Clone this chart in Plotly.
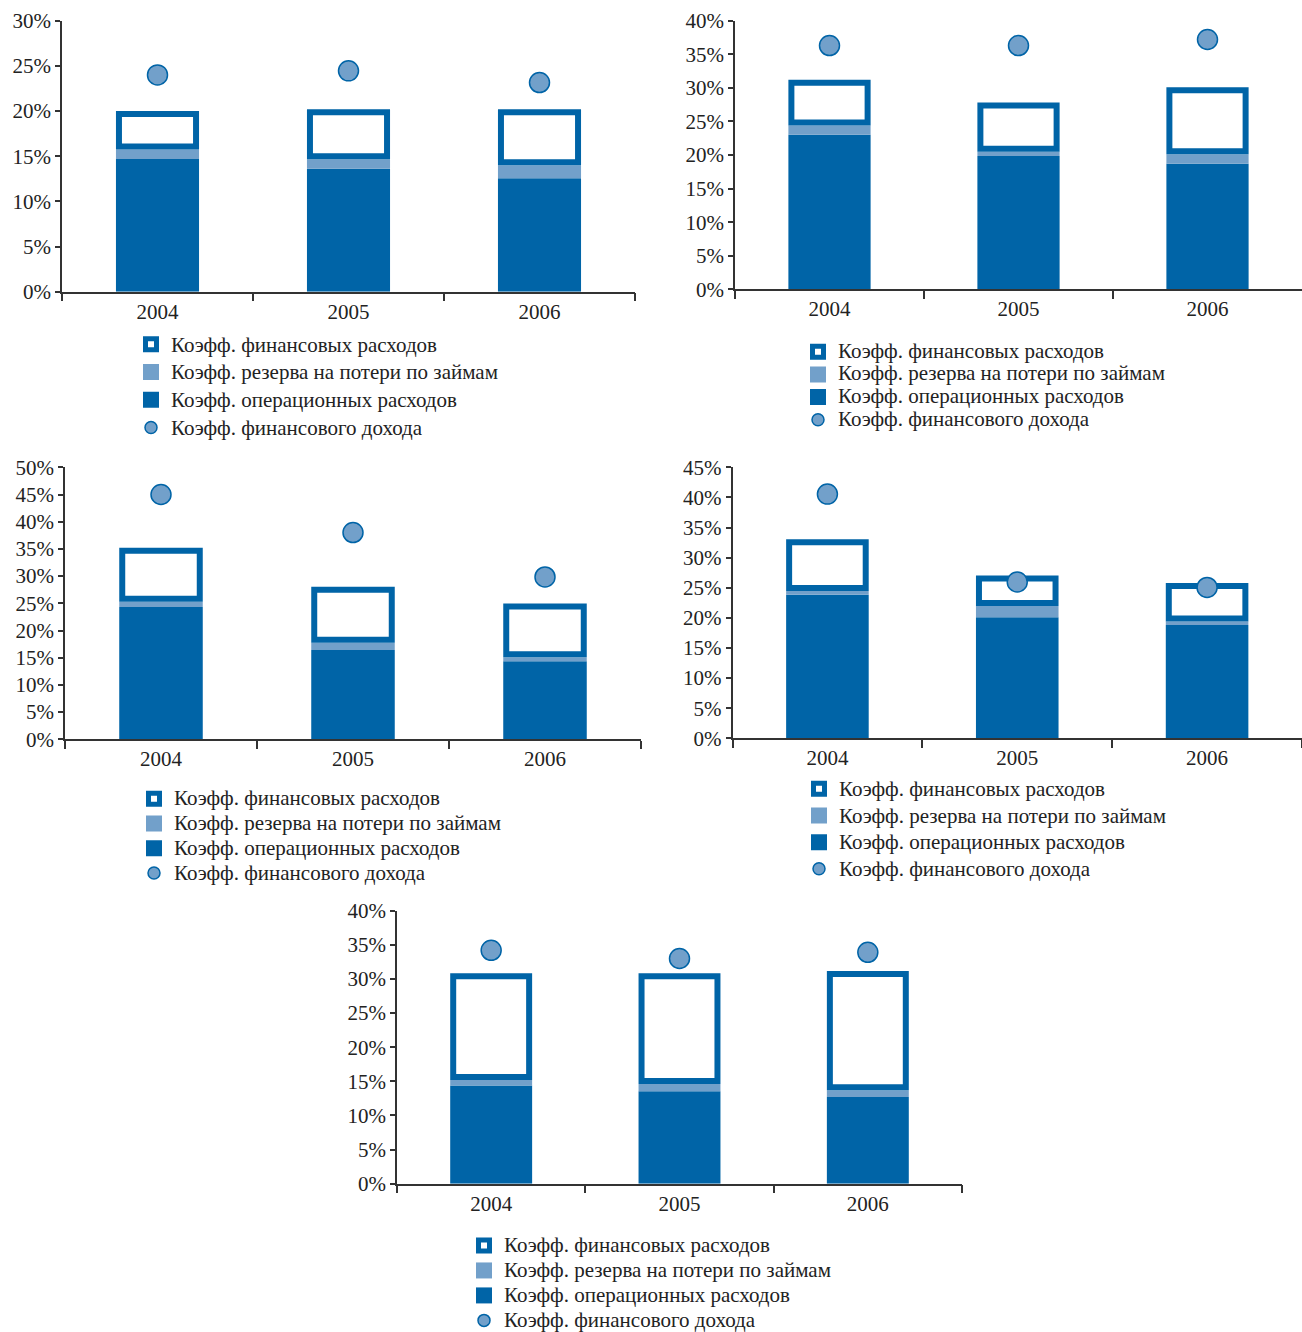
import plotly.graph_objects as go

# Categories
years = ["2004", "2005", "2006"]

# Panel 1
opex_1 = [14.7, 13.6, 12.55]
reserve_1 = [1.05, 1.05, 1.45]
finexp_1 = [4.25, 5.55, 6.2]
income_1 = [24.0, 24.45, 23.15]

# Panel 2
opex_2 = [23.0, 19.85, 18.7]
reserve_2 = [1.4, 0.65, 1.4]
finexp_2 = [6.8, 7.3, 10.0]
income_2 = [36.3, 36.3, 37.2]

# Panel 3
opex_3 = [24.3, 16.4, 14.35]
reserve_3 = [1.0, 1.35, 0.75]
finexp_3 = [9.9, 10.3, 9.85]
income_3 = [45.0, 38.0, 29.85]

# Panel 4
opex_4 = [23.85, 20.1, 18.8]
reserve_4 = [0.6, 1.85, 0.6]
finexp_4 = [8.6, 5.1, 6.4]
income_4 = [40.55, 25.95, 25.05]

# Panel 5
opex_5 = [14.4, 13.55, 12.7]
reserve_5 = [0.8, 1.05, 1.0]
finexp_5 = [15.65, 16.25, 17.45]
income_5 = [34.2, 33.0, 33.9]

y_max = [30, 40, 50, 45, 40]

series_names = [
    "Коэфф. финансовых расходов",
    "Коэфф. резерва на потери по займам",
    "Коэфф. операционных расходов",
    "Коэфф. финансового дохода",
]

panels = [
    (opex_1, reserve_1, finexp_1, income_1),
    (opex_2, reserve_2, finexp_2, income_2),
    (opex_3, reserve_3, finexp_3, income_3),
    (opex_4, reserve_4, finexp_4, income_4),
    (opex_5, reserve_5, finexp_5, income_5),
]

W, H = 1302, 1332
DARK = "#0064a7"
LIGHT = "#72a0ca"
AXIS = "#333333"
TEXT = "#222222"
FONT = "Liberation Serif, Times New Roman, serif"

# Plot areas in pixels: left, right, top, bottom
frames = [
    (62, 635, 20.7, 291.7),
    (735, 1302, 20.7, 289.3),
    (65, 641, 467.3, 739.3),
    (732.5, 1302, 467.3, 738.3),
    (397, 962, 910.7, 1183.7),
]
# Legend boxes: left px, top px, row-spacing font size
legend_pos = [
    (131, 325.5, 19.0),
    (798, 335.5, 15.1),
    (134, 781.5, 16.7),
    (799, 770.5, 18.2),
    (464, 1228, 16.9),
]
LEGEND_TEXT_PX = 21

BAR_W = 0.435
BORDER_PX = 6

fig = go.Figure()
layout = dict(
    width=W,
    height=H,
    margin=dict(l=0, r=0, t=0, b=0, autoexpand=False),
    paper_bgcolor="white",
    plot_bgcolor="white",
    barmode="overlay",
    font=dict(family=FONT, size=21, color=TEXT),
)

for k, ((opex, reserve, finexp, income), ymax, (l, r, t, b), (lx, ly, lfs)) in enumerate(
    zip(panels, y_max, frames, legend_pos), start=1
):
    sfx = "" if k == 1 else str(k)
    xa, ya = "x" + sfx, "y" + sfx
    leg = "legend" + sfx

    plot_h = b - t
    cat_px = (r - l) / 3
    border = BORDER_PX * ymax / plot_h  # border thickness in data units

    res_base = list(opex)
    fin_base = [o + rv + border / 2 for o, rv in zip(opex, reserve)]
    fin_h = [f - border for f in finexp]

    fig.add_trace(go.Bar(
        x=years, y=opex, base=[0, 0, 0], width=BAR_W,
        marker=dict(color=DARK, line=dict(width=0)),
        xaxis=xa, yaxis=ya, showlegend=False, hoverinfo="skip",
    ))
    fig.add_trace(go.Bar(
        x=years, y=reserve, base=res_base, width=BAR_W,
        marker=dict(color=LIGHT, line=dict(width=0)),
        xaxis=xa, yaxis=ya, showlegend=False, hoverinfo="skip",
    ))
    fig.add_trace(go.Bar(
        x=years, y=fin_h, base=fin_base, width=BAR_W - BORDER_PX / cat_px,
        marker=dict(color="white", line=dict(color=DARK, width=BORDER_PX)),
        xaxis=xa, yaxis=ya, showlegend=False, hoverinfo="skip",
    ))
    fig.add_trace(go.Scatter(
        x=years, y=income, mode="markers",
        marker=dict(size=20, color=LIGHT, line=dict(color=DARK, width=1.5)),
        xaxis=xa, yaxis=ya, showlegend=False, hoverinfo="skip",
    ))

    # Legend entries
    legend_markers = [
        dict(symbol="square", size=11, color="white", line=dict(color=DARK, width=5)),
        dict(symbol="square", size=16, color=LIGHT, line=dict(width=0)),
        dict(symbol="square", size=16, color=DARK, line=dict(width=0)),
        dict(symbol="circle", size=12, color=LIGHT, line=dict(color=DARK, width=1.5)),
    ]
    for name, mk in zip(series_names, legend_markers):
        fig.add_trace(go.Scatter(
            x=[None], y=[None], mode="markers",
            name=f'<span style="font-size:{LEGEND_TEXT_PX}px">{name}</span>',
            marker=mk, xaxis=xa, yaxis=ya, legend=leg, showlegend=True,
        ))

    xkey = "xaxis" + sfx
    ykey = "yaxis" + sfx
    layout[xkey] = dict(
        domain=[l / W, r / W],
        anchor=ya,
        type="category",
        categoryorder="array",
        categoryarray=years,
        range=[-0.5, 2.5],
        showline=True, linecolor=AXIS, linewidth=1.5,
        ticks="outside", tickson="boundaries", ticklen=8, tickwidth=1.5, tickcolor=AXIS,
        showgrid=False, zeroline=False,
        tickfont=dict(family=FONT, size=21, color=TEXT),
        fixedrange=True,
    )
    layout[ykey] = dict(
        domain=[1 - b / H, 1 - t / H],
        anchor=xa,
        range=[0, ymax],
        tickmode="linear", tick0=0, dtick=5, ticksuffix="%",
        showline=True, linecolor=AXIS, linewidth=1.5,
        ticks="outside", ticklen=5, tickwidth=1.5, tickcolor=AXIS,
        showgrid=False, zeroline=False,
        tickfont=dict(family=FONT, size=21, color=TEXT),
        fixedrange=True,
    )
    layout[leg] = dict(
        x=lx / W, y=1 - ly / H, xanchor="left", yanchor="top",
        xref="paper", yref="paper",
        traceorder="normal", bgcolor="rgba(0,0,0,0)",
        font=dict(family=FONT, size=lfs, color=TEXT),
        itemsizing="trace", tracegroupgap=0,
    )

fig.update_layout(**layout)
fig.write_html("out.html")
